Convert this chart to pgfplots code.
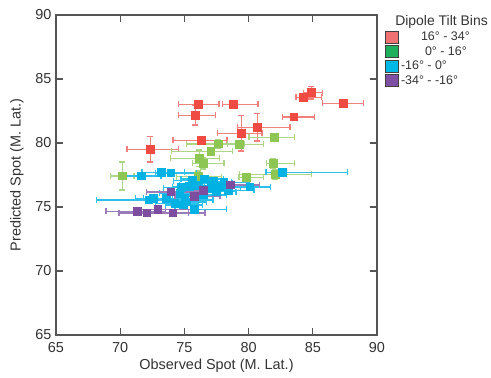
\documentclass[border=0pt]{standalone}
\usepackage{fontspec}
\setmainfont{Liberation Sans}
\usepackage{pgfplots}
\usepackage{pgfplotstable}
\pgfplotsset{compat=1.18}
\definecolor{cred}{HTML}{F04B43}
\definecolor{credL}{HTML}{F0817C}
\definecolor{cgreen}{HTML}{8DC652}
\definecolor{cgreenL}{HTML}{ADD585}
\definecolor{ccyan}{HTML}{00B2E3}
\definecolor{ccyanL}{HTML}{2EC0EC}
\definecolor{cpurple}{HTML}{7D4E9F}
\definecolor{cpurpleL}{HTML}{9C7CB8}
\definecolor{lred}{HTML}{F07272}
\definecolor{lgreen}{HTML}{1DAF5B}
\definecolor{lcyan}{HTML}{00B8E6}
\definecolor{lpurple}{HTML}{7F4FA3}
\definecolor{axgray}{HTML}{555555}

\pgfplotstableread{
x y exm exp ey
76.08 83.02 1.53 1.62 0.15
78.81 83.02 0.86 1.92 0.15
75.85 82.16 1.30 1.59 0.75
84.88 83.93 0.62 0.89 0.50
84.26 83.57 0.57 1.43 0.15
87.38 83.10 1.61 1.55 0.15
83.54 82.03 0.89 1.58 0.25
80.68 81.23 1.56 2.54 1.07
79.43 80.76 1.87 1.61 1.37
76.32 80.21 2.20 2.00 0.20
72.34 79.50 1.80 2.20 1.00
}\redtab

\pgfplotstableread{
x y exm exp ey
82.00 80.45 1.97 1.56 0.30
77.65 79.92 2.48 2.00 0.30
79.28 79.90 0.91 1.87 0.30
77.08 79.35 3.08 1.65 0.25
76.16 78.80 2.23 1.56 0.65
76.47 78.41 0.83 1.61 0.45
81.93 78.41 0.55 1.66 0.40
82.08 77.55 2.80 2.82 0.40
76.08 77.37 1.70 1.80 0.45
79.85 77.32 0.60 1.30 0.30
70.16 77.42 0.90 0.90 1.10
}\greentab

\pgfplotstableread{
x y exm exp ey
71.67 77.42 1.20 1.50 0.10
73.20 77.71 1.50 1.80 0.15
73.96 77.66 1.20 2.00 0.10
82.62 77.71 1.27 5.07 0.15
72.24 75.55 4.07 5.00 0.15
75.64 77.07 1.50 1.50 0.15
76.55 77.19 1.80 1.50 0.20
77.10 76.85 1.50 1.60 0.15
78.08 76.93 1.50 2.00 0.15
78.42 76.30 2.00 2.00 0.20
80.11 76.57 1.90 1.60 0.20
75.38 76.59 1.30 1.60 0.15
74.66 76.07 1.60 1.60 0.20
73.60 75.68 1.80 1.90 0.20
74.27 75.29 1.50 1.80 0.20
75.77 74.82 1.50 2.50 0.35
75.05 75.68 1.70 1.60 0.20
76.47 75.94 1.50 1.80 0.20
77.25 76.98 1.40 1.40 0.15
77.77 76.59 1.40 1.60 0.15
77.51 76.20 1.30 1.50 0.15
74.91 75.16 1.40 1.50 0.20
72.58 75.68 1.40 1.50 0.15
74.78 76.50 1.40 1.60 0.20
76.10 76.70 1.50 1.70 0.20
75.20 75.40 1.50 1.50 0.15
76.90 76.40 1.50 1.50 0.15
}\cyantab

\pgfplotstableread{
x y exm exp ey
71.33 74.66 2.43 2.20 0.15
72.10 74.52 2.20 3.20 0.15
72.95 74.80 1.90 2.60 0.15
74.10 74.52 2.00 2.50 0.15
73.96 76.17 1.90 2.10 0.15
75.77 75.83 1.50 2.00 0.20
76.47 76.30 1.40 2.00 0.20
78.57 76.71 0.80 2.30 0.15
}\purpletab

\pgfplotsset{
  ebars/.style 2 args={
    forget plot,
    only marks, mark=square*, mark size=3.8bp,
    mark options={draw=#1, fill=#1, line width=0pt},
    error bars/.cd,
      x dir=both, x explicit, y dir=both, y explicit,
      error bar style={draw=#2, line width=1.4bp},
      error mark options={rotate=90, draw=#2, line width=1.4bp, mark size=3bp},
    /pgfplots/.cd,
  },
}

\begin{document}
\begin{tikzpicture}
\path[use as bounding box] (0,0) rectangle (491bp,378bp);
\begin{axis}[
  at={(56bp,43bp)}, anchor=south west,
  scale only axis, width=321bp, height=320bp,
  xmin=65, xmax=90, ymin=65, ymax=90,
  xtick={65,70,...,90}, ytick={65,70,...,90},
  tick align=inside, major tick length=7bp,
  axis line style={draw=axgray, line width=1.3bp},
  every tick/.style={draw=axgray, line width=1.1bp},
  /pgf/number format/assume math mode=true,
  tick label style={font=\fontsize{14.5}{15}\selectfont, text=black!80},
  xticklabel style={yshift=-4bp},
  yticklabel style={xshift=-1bp},
  label style={font=\fontsize{14.5}{15}\selectfont, text=black!80},
  xlabel={Observed Spot (M. Lat.)},
  ylabel={Predicted Spot (M. Lat.)},
  xlabel style={at={(axis description cs:0.5,-0.097)}, anchor=center},
  ylabel style={at={(axis description cs:-0.122,0.5)}, anchor=center},
  clip=false,
  legend style={at={(axis description cs:1.025,0.953)}, anchor=north west,
    draw=none, fill=none, font=\fontsize{12.5}{13}\selectfont,
    row sep=0.3bp, inner sep=0pt, text=black!80},
  legend cell align=left,
  legend image code/.code={\draw[#1, draw=black!75, line width=0.8bp] (0bp,-6bp) rectangle (13bp,6bp);},
]
\addplot+[ebars={cred}{credL}] table[x=x, y=y, x error plus=exp, x error minus=exm, y error=ey] {\redtab};
\addplot+[ebars={cgreen}{cgreenL}] table[x=x, y=y, x error plus=exp, x error minus=exm, y error=ey] {\greentab};
\addplot+[ebars={ccyan}{ccyanL}] table[x=x, y=y, x error plus=exp, x error minus=exm, y error=ey] {\cyantab};
\addplot+[ebars={cpurple}{cpurpleL}] table[x=x, y=y, x error plus=exp, x error minus=exm, y error=ey] {\purpletab};
\addlegendimage{fill=lred}
\addlegendentry{\hspace{20bp}16° - 34°}
\addlegendimage{fill=lgreen}
\addlegendentry{\hspace{24bp}0° - 16°}
\addlegendimage{fill=lcyan}
\addlegendentry{-16° - 0°}
\addlegendimage{fill=lpurple}
\addlegendentry{-34° - -16°}
\node[anchor=west, font=\fontsize{14}{15}\selectfont, text=black!80] at (axis description cs:1.046,0.978) {Dipole Tilt Bins};
\end{axis}
\end{tikzpicture}
\end{document}
